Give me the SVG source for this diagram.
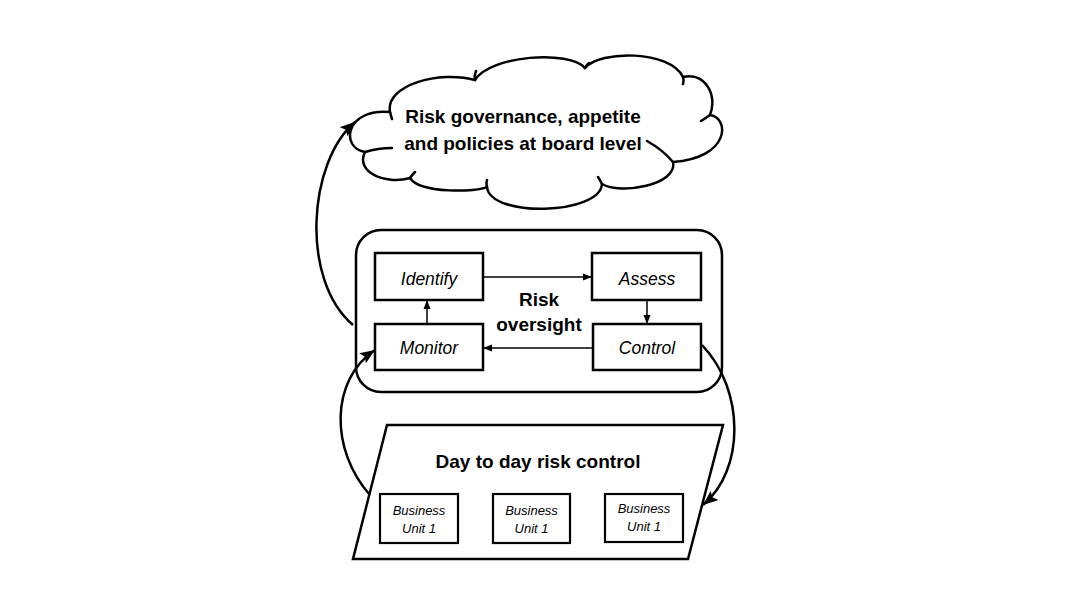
<svg xmlns="http://www.w3.org/2000/svg" width="1066" height="600" viewBox="0 0 1066 600">
<style>
.shape{fill:#fff;stroke:#000;stroke-width:2.5}
.box{fill:#fff;stroke:#000;stroke-width:2.5}
.bu{fill:#fff;stroke:#000;stroke-width:2.2}
.stub{fill:none;stroke:#000;stroke-width:2.5;stroke-linecap:round}
.title{font-family:"Liberation Sans",Arial,sans-serif;font-weight:bold;font-size:19px;fill:#000;text-anchor:middle}
.lbl{font-family:"Liberation Sans",Arial,sans-serif;font-style:italic;font-size:17.5px;fill:#000;text-anchor:middle}
.small{font-family:"Liberation Sans",Arial,sans-serif;font-style:italic;font-size:13px;fill:#000;text-anchor:middle}
.thin{fill:none;stroke:#000;stroke-width:1.5}
.thick{fill:none;stroke:#000;stroke-width:2.5}
</style>
<defs>
<marker id="sa" markerUnits="userSpaceOnUse" markerWidth="10" markerHeight="8" refX="9" refY="4" orient="auto">
<path d="M0,0.5 L9,4 L0,7.5 Z" fill="#000"/>
</marker>
<marker id="ba" markerUnits="userSpaceOnUse" markerWidth="16" markerHeight="12" refX="15" refY="6" orient="auto">
<path d="M0,0 L15,6 L0,12 L3,6 Z" fill="#000"/>
</marker>
</defs>
<rect width="1066" height="600" fill="#fff"/>

<g id="cloud">
<path class="shape" d="M365,152 C340,148 345,108 390,112 C385,85 440,70 475,80 C490,55 570,50 585,68 C600,50 670,50 683,77 C705,72 718,95 710,115 C730,118 730,158 673,162 C678,185 620,195 602,184 C600,215 490,218 487,187 C478,192 420,194 410,178 C385,185 355,172 365,152 Z"/>
<path class="stub" d="M390,112 Q391,116 392,119 M365,152 Q378,148 392,148 M410,178 Q412,175 415,172 M487,187 Q486,183 487,180 M475,80 Q474,76 476,71 M585,68 Q586,66 589,63 M683,77 Q684,80 683,84 M710,115 Q706,118 701,121 M673,162 Q663,150 647,141 M602,184 Q600,180 598,177"/>
<text class="title" x="523" y="123">Risk governance, appetite</text>
<text class="title" x="523" y="150">and policies at board level</text>
</g>

<g id="oversight">
<rect class="shape" x="356" y="230" width="366" height="162" rx="25" ry="25"/>
<text class="title" x="539" y="306">Risk</text>
<text class="title" x="539" y="331">oversight</text>
</g>

<g id="identify">
<rect class="box" x="375" y="253" width="108" height="47"/>
<text class="lbl" x="429" y="285">Identify</text>
</g>
<g id="assess">
<rect class="box" x="592" y="253" width="109" height="47"/>
<text class="lbl" x="647" y="285">Assess</text>
</g>
<g id="monitor">
<rect class="box" x="375" y="324" width="108" height="46"/>
<text class="lbl" x="429" y="354">Monitor</text>
</g>
<g id="control">
<rect class="box" x="593" y="324" width="108" height="46"/>
<text class="lbl" x="647" y="354">Control</text>
</g>

<g id="daytoday">
<polygon class="shape" points="387,425 723,425 688,559 353,559"/>
<text class="title" x="538" y="468">Day to day risk control</text>
</g>

<g id="bu1">
<rect class="bu" x="380" y="494" width="78" height="49"/>
<text class="small" x="419" y="515">Business</text>
<text class="small" x="419" y="533">Unit 1</text>
</g>
<g id="bu2">
<rect class="bu" x="493" y="494" width="77" height="49"/>
<text class="small" x="531.5" y="515">Business</text>
<text class="small" x="531.5" y="533">Unit 1</text>
</g>
<g id="bu3">
<rect class="bu" x="605" y="494" width="78" height="48"/>
<text class="small" x="644" y="513">Business</text>
<text class="small" x="644" y="531">Unit 1</text>
</g>

<g id="connectors">
<path class="thin" d="M483,277 L592,277" marker-end="url(#sa)"/>
<path class="thin" d="M647,300 L647,324" marker-end="url(#sa)"/>
<path class="thin" d="M593,348 L483,348" marker-end="url(#sa)"/>
<path class="thin" d="M427,324 L427,300" marker-end="url(#sa)"/>
<path class="thick" d="M353,325 C300,280 308,162 355,122" marker-end="url(#ba)"/>
<path class="thick" d="M370,495 C330,450 330,380 375,350" marker-end="url(#ba)"/>
<path class="thick" d="M702,345 C745,390 745,470 703,505" marker-end="url(#ba)"/>
</g>
</svg>
